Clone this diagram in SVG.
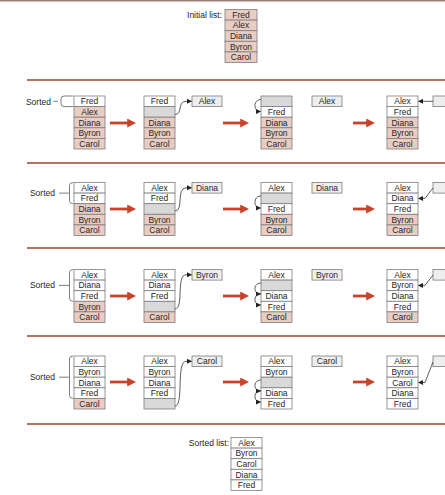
<svg xmlns="http://www.w3.org/2000/svg" width="445" height="495" viewBox="0 0 445 495">
<style>
rect.w{fill:#ffffff;stroke:#7d7d7d;stroke-width:0.8}
rect.p{fill:#e9cdc3;stroke:#7d7d7d;stroke-width:0.8}
rect.g{fill:#d9d9d9;stroke:#7d7d7d;stroke-width:0.8}
rect.l{fill:#eeeeee;stroke:#7d7d7d;stroke-width:0.8}
text{font-family:"Liberation Sans",Arial,sans-serif;font-size:8.5px;fill:#262626}
text.c{text-anchor:middle}
text.lab{text-anchor:end;font-size:8.5px}
.sep{stroke:#b57463;stroke-width:2.2}
.br{fill:none;stroke:#707070;stroke-width:0.9}
.con{fill:none;stroke:#333;stroke-width:0.8;marker-end:url(#bh)}
.red{stroke:#c8432b;stroke-width:2.8;marker-end:url(#rh)}
</style>
<defs>
<marker id="bh" viewBox="0 0 10 10" refX="9" refY="5" markerWidth="5" markerHeight="5" markerUnits="userSpaceOnUse" orient="auto"><path d="M0,0 L10,5 L0,10 z" fill="#222"/></marker>
<marker id="rh" viewBox="0 0 10 10" refX="2" refY="5" markerWidth="9" markerHeight="9" markerUnits="userSpaceOnUse" orient="auto"><path d="M0,0 L10,5 L0,10 z" fill="#c8432b"/></marker>
</defs>
<rect x="0" y="0" width="445" height="1.5" fill="#9c8276"/>
<g id="separators">
<line class="sep" x1="27" y1="80" x2="445" y2="80"/>
<line class="sep" x1="27" y1="163" x2="445" y2="163"/>
<line class="sep" x1="27" y1="248" x2="445" y2="248"/>
<line class="sep" x1="27" y1="336" x2="445" y2="336"/>
<line class="sep" x1="27" y1="424" x2="445" y2="424"/>
</g>

<g id="initial">
<text class="lab" x="222" y="18">Initial list:</text>
<rect class="p" x="225" y="9.5" width="32" height="10.6"/><text class="c" x="241" y="17.8">Fred</text>
<rect class="p" x="225" y="20.1" width="32" height="10.6"/><text class="c" x="241" y="28.4">Alex</text>
<rect class="p" x="225" y="30.7" width="32" height="10.6"/><text class="c" x="241" y="39">Diana</text>
<rect class="p" x="225" y="41.3" width="32" height="10.6"/><text class="c" x="241" y="49.6">Byron</text>
<rect class="p" x="225" y="51.9" width="32" height="10.6"/><text class="c" x="241" y="60.2">Carol</text>
</g>

<!-- Row 1 -->
<g id="r1-label">
<text class="lab" x="51" y="104.5">Sorted</text>
<path class="br" d="M53.5,101.3 L58,101.3 M73,96 L64,96 Q61,96 61,99 L61,103.6 Q61,106.6 64,106.6 L73,106.6"/>
</g>
<g id="r1-a">
<rect class="w" x="74" y="96" width="31" height="10.6"/><text class="c" x="89.5" y="104.3">Fred</text>
<rect class="p" x="74" y="106.6" width="31" height="10.6"/><text class="c" x="89.5" y="114.9">Alex</text>
<rect class="p" x="74" y="117.2" width="31" height="10.6"/><text class="c" x="89.5" y="125.5">Diana</text>
<rect class="p" x="74" y="127.8" width="31" height="10.6"/><text class="c" x="89.5" y="136.1">Byron</text>
<rect class="p" x="74" y="138.4" width="31" height="10.6"/><text class="c" x="89.5" y="146.7">Carol</text>
</g>
<g id="r1-b">
<rect class="w" x="144" y="96" width="31" height="10.6"/><text class="c" x="159.5" y="104.3">Fred</text>
<rect class="g" x="144" y="106.6" width="31" height="10.6"/>
<rect class="p" x="144" y="117.2" width="31" height="10.6"/><text class="c" x="159.5" y="125.5">Diana</text>
<rect class="p" x="144" y="127.8" width="31" height="10.6"/><text class="c" x="159.5" y="136.1">Byron</text>
<rect class="p" x="144" y="138.4" width="31" height="10.6"/><text class="c" x="159.5" y="146.7">Carol</text>
</g>
<g id="r1-x1"><rect class="l" x="192" y="96" width="30" height="10.6"/><text class="c" x="207" y="104.3">Alex</text></g>
<g id="r1-c">
<rect class="g" x="261" y="96" width="31" height="10.6"/>
<rect class="w" x="261" y="106.6" width="31" height="10.6"/><text class="c" x="276.5" y="114.9">Fred</text>
<rect class="p" x="261" y="117.2" width="31" height="10.6"/><text class="c" x="276.5" y="125.5">Diana</text>
<rect class="p" x="261" y="127.8" width="31" height="10.6"/><text class="c" x="276.5" y="136.1">Byron</text>
<rect class="p" x="261" y="138.4" width="31" height="10.6"/><text class="c" x="276.5" y="146.7">Carol</text>
</g>
<g id="r1-x2"><rect class="l" x="312" y="96" width="30" height="10.6"/><text class="c" x="327" y="104.3">Alex</text></g>
<g id="r1-d">
<rect class="w" x="387" y="96" width="31" height="10.6"/><text class="c" x="402.5" y="104.3">Alex</text>
<rect class="w" x="387" y="106.6" width="31" height="10.6"/><text class="c" x="402.5" y="114.9">Fred</text>
<rect class="p" x="387" y="117.2" width="31" height="10.6"/><text class="c" x="402.5" y="125.5">Diana</text>
<rect class="p" x="387" y="127.8" width="31" height="10.6"/><text class="c" x="402.5" y="136.1">Byron</text>
<rect class="p" x="387" y="138.4" width="31" height="10.6"/><text class="c" x="402.5" y="146.7">Carol</text>
</g>
<g id="r1-e"><rect class="l" x="433" y="96" width="20" height="10.6"/></g>

<!-- Row 2 -->
<g id="r2-label">
<text class="lab" x="55" y="196">Sorted</text>
<path class="br" d="M59,193.1 L69,193.1 M73,182.5 Q69.5,182.5 69.5,185.5 L69.5,200.7 Q69.5,203.7 73,203.7"/>
</g>
<g id="r2-a">
<rect class="w" x="74" y="182.5" width="31" height="10.6"/><text class="c" x="89.5" y="190.8">Alex</text>
<rect class="w" x="74" y="193.1" width="31" height="10.6"/><text class="c" x="89.5" y="201.4">Fred</text>
<rect class="p" x="74" y="203.7" width="31" height="10.6"/><text class="c" x="89.5" y="212">Diana</text>
<rect class="p" x="74" y="214.3" width="31" height="10.6"/><text class="c" x="89.5" y="222.6">Byron</text>
<rect class="p" x="74" y="224.9" width="31" height="10.6"/><text class="c" x="89.5" y="233.2">Carol</text>
</g>
<g id="r2-b">
<rect class="w" x="144" y="182.5" width="31" height="10.6"/><text class="c" x="159.5" y="190.8">Alex</text>
<rect class="w" x="144" y="193.1" width="31" height="10.6"/><text class="c" x="159.5" y="201.4">Fred</text>
<rect class="g" x="144" y="203.7" width="31" height="10.6"/>
<rect class="p" x="144" y="214.3" width="31" height="10.6"/><text class="c" x="159.5" y="222.6">Byron</text>
<rect class="p" x="144" y="224.9" width="31" height="10.6"/><text class="c" x="159.5" y="233.2">Carol</text>
</g>
<g id="r2-x1"><rect class="l" x="192" y="182.5" width="30" height="10.6"/><text class="c" x="207" y="190.8">Diana</text></g>
<g id="r2-c">
<rect class="w" x="261" y="182.5" width="31" height="10.6"/><text class="c" x="276.5" y="190.8">Alex</text>
<rect class="g" x="261" y="193.1" width="31" height="10.6"/>
<rect class="w" x="261" y="203.7" width="31" height="10.6"/><text class="c" x="276.5" y="212">Fred</text>
<rect class="p" x="261" y="214.3" width="31" height="10.6"/><text class="c" x="276.5" y="222.6">Byron</text>
<rect class="p" x="261" y="224.9" width="31" height="10.6"/><text class="c" x="276.5" y="233.2">Carol</text>
</g>
<g id="r2-x2"><rect class="l" x="312" y="182.5" width="30" height="10.6"/><text class="c" x="327" y="190.8">Diana</text></g>
<g id="r2-d">
<rect class="w" x="387" y="182.5" width="31" height="10.6"/><text class="c" x="402.5" y="190.8">Alex</text>
<rect class="w" x="387" y="193.1" width="31" height="10.6"/><text class="c" x="402.5" y="201.4">Diana</text>
<rect class="w" x="387" y="203.7" width="31" height="10.6"/><text class="c" x="402.5" y="212">Fred</text>
<rect class="p" x="387" y="214.3" width="31" height="10.6"/><text class="c" x="402.5" y="222.6">Byron</text>
<rect class="p" x="387" y="224.9" width="31" height="10.6"/><text class="c" x="402.5" y="233.2">Carol</text>
</g>
<g id="r2-e"><rect class="l" x="433" y="182.5" width="20" height="10.6"/></g>

<!-- Row 3 -->
<g id="r3-label">
<text class="lab" x="55" y="288.4">Sorted</text>
<path class="br" d="M59,285.4 L69,285.4 M73,269.5 Q69.5,269.5 69.5,272.5 L69.5,298.3 Q69.5,301.3 73,301.3"/>
</g>
<g id="r3-a">
<rect class="w" x="74" y="269.5" width="31" height="10.6"/><text class="c" x="89.5" y="277.8">Alex</text>
<rect class="w" x="74" y="280.1" width="31" height="10.6"/><text class="c" x="89.5" y="288.4">Diana</text>
<rect class="w" x="74" y="290.7" width="31" height="10.6"/><text class="c" x="89.5" y="299">Fred</text>
<rect class="p" x="74" y="301.3" width="31" height="10.6"/><text class="c" x="89.5" y="309.6">Byron</text>
<rect class="p" x="74" y="311.9" width="31" height="10.6"/><text class="c" x="89.5" y="320.2">Carol</text>
</g>
<g id="r3-b">
<rect class="w" x="144" y="269.5" width="31" height="10.6"/><text class="c" x="159.5" y="277.8">Alex</text>
<rect class="w" x="144" y="280.1" width="31" height="10.6"/><text class="c" x="159.5" y="288.4">Diana</text>
<rect class="w" x="144" y="290.7" width="31" height="10.6"/><text class="c" x="159.5" y="299">Fred</text>
<rect class="g" x="144" y="301.3" width="31" height="10.6"/>
<rect class="p" x="144" y="311.9" width="31" height="10.6"/><text class="c" x="159.5" y="320.2">Carol</text>
</g>
<g id="r3-x1"><rect class="l" x="192" y="269.5" width="30" height="10.6"/><text class="c" x="207" y="277.8">Byron</text></g>
<g id="r3-c">
<rect class="w" x="261" y="269.5" width="31" height="10.6"/><text class="c" x="276.5" y="277.8">Alex</text>
<rect class="g" x="261" y="280.1" width="31" height="10.6"/>
<rect class="w" x="261" y="290.7" width="31" height="10.6"/><text class="c" x="276.5" y="299">Diana</text>
<rect class="w" x="261" y="301.3" width="31" height="10.6"/><text class="c" x="276.5" y="309.6">Fred</text>
<rect class="p" x="261" y="311.9" width="31" height="10.6"/><text class="c" x="276.5" y="320.2">Carol</text>
</g>
<g id="r3-x2"><rect class="l" x="312" y="269.5" width="30" height="10.6"/><text class="c" x="327" y="277.8">Byron</text></g>
<g id="r3-d">
<rect class="w" x="387" y="269.5" width="31" height="10.6"/><text class="c" x="402.5" y="277.8">Alex</text>
<rect class="w" x="387" y="280.1" width="31" height="10.6"/><text class="c" x="402.5" y="288.4">Byron</text>
<rect class="w" x="387" y="290.7" width="31" height="10.6"/><text class="c" x="402.5" y="299">Diana</text>
<rect class="w" x="387" y="301.3" width="31" height="10.6"/><text class="c" x="402.5" y="309.6">Fred</text>
<rect class="p" x="387" y="311.9" width="31" height="10.6"/><text class="c" x="402.5" y="320.2">Carol</text>
</g>
<g id="r3-e"><rect class="l" x="433" y="269.5" width="20" height="10.6"/></g>

<!-- Row 4 -->
<g id="r4-label">
<text class="lab" x="55" y="380.2">Sorted</text>
<path class="br" d="M59,377.2 L69,377.2 M73,356 Q69.5,356 69.5,359 L69.5,395.4 Q69.5,398.4 73,398.4"/>
</g>
<g id="r4-a">
<rect class="w" x="74" y="356" width="31" height="10.6"/><text class="c" x="89.5" y="364.3">Alex</text>
<rect class="w" x="74" y="366.6" width="31" height="10.6"/><text class="c" x="89.5" y="374.9">Byron</text>
<rect class="w" x="74" y="377.2" width="31" height="10.6"/><text class="c" x="89.5" y="385.5">Diana</text>
<rect class="w" x="74" y="387.8" width="31" height="10.6"/><text class="c" x="89.5" y="396.1">Fred</text>
<rect class="p" x="74" y="398.4" width="31" height="10.6"/><text class="c" x="89.5" y="406.7">Carol</text>
</g>
<g id="r4-b">
<rect class="w" x="144" y="356" width="31" height="10.6"/><text class="c" x="159.5" y="364.3">Alex</text>
<rect class="w" x="144" y="366.6" width="31" height="10.6"/><text class="c" x="159.5" y="374.9">Byron</text>
<rect class="w" x="144" y="377.2" width="31" height="10.6"/><text class="c" x="159.5" y="385.5">Diana</text>
<rect class="w" x="144" y="387.8" width="31" height="10.6"/><text class="c" x="159.5" y="396.1">Fred</text>
<rect class="g" x="144" y="398.4" width="31" height="10.6"/>
</g>
<g id="r4-x1"><rect class="l" x="192" y="356" width="30" height="10.6"/><text class="c" x="207" y="364.3">Carol</text></g>
<g id="r4-c">
<rect class="w" x="261" y="356" width="31" height="10.6"/><text class="c" x="276.5" y="364.3">Alex</text>
<rect class="w" x="261" y="366.6" width="31" height="10.6"/><text class="c" x="276.5" y="374.9">Byron</text>
<rect class="g" x="261" y="377.2" width="31" height="10.6"/>
<rect class="w" x="261" y="387.8" width="31" height="10.6"/><text class="c" x="276.5" y="396.1">Diana</text>
<rect class="w" x="261" y="398.4" width="31" height="10.6"/><text class="c" x="276.5" y="406.7">Fred</text>
</g>
<g id="r4-x2"><rect class="l" x="312" y="356" width="30" height="10.6"/><text class="c" x="327" y="364.3">Carol</text></g>
<g id="r4-d">
<rect class="w" x="387" y="356" width="31" height="10.6"/><text class="c" x="402.5" y="364.3">Alex</text>
<rect class="w" x="387" y="366.6" width="31" height="10.6"/><text class="c" x="402.5" y="374.9">Byron</text>
<rect class="w" x="387" y="377.2" width="31" height="10.6"/><text class="c" x="402.5" y="385.5">Carol</text>
<rect class="w" x="387" y="387.8" width="31" height="10.6"/><text class="c" x="402.5" y="396.1">Diana</text>
<rect class="w" x="387" y="398.4" width="31" height="10.6"/><text class="c" x="402.5" y="406.7">Fred</text>
</g>
<g id="r4-e"><rect class="l" x="433" y="356" width="20" height="10.6"/></g>

<g id="final">
<text class="lab" x="229" y="446">Sorted list:</text>
<rect class="w" x="231" y="437.5" width="31" height="10.6"/><text class="c" x="246.5" y="445.8">Alex</text>
<rect class="w" x="231" y="448.1" width="31" height="10.6"/><text class="c" x="246.5" y="456.4">Byron</text>
<rect class="w" x="231" y="458.7" width="31" height="10.6"/><text class="c" x="246.5" y="467">Carol</text>
<rect class="w" x="231" y="469.3" width="31" height="10.6"/><text class="c" x="246.5" y="477.6">Diana</text>
<rect class="w" x="231" y="479.9" width="31" height="10.6"/><text class="c" x="246.5" y="488.2">Fred</text>
</g>

<g id="connectors">
<line class="red" x1="110" y1="123" x2="129" y2="123"/>
<line class="red" x1="223" y1="123" x2="242" y2="123"/>
<line class="red" x1="353" y1="123" x2="368" y2="123"/>
<line class="red" x1="110" y1="209" x2="129" y2="209"/>
<line class="red" x1="223" y1="209" x2="242" y2="209"/>
<line class="red" x1="353" y1="209" x2="368" y2="209"/>
<line class="red" x1="110" y1="296" x2="129" y2="296"/>
<line class="red" x1="223" y1="296" x2="242" y2="296"/>
<line class="red" x1="353" y1="296" x2="368" y2="296"/>
<line class="red" x1="110" y1="382" x2="129" y2="382"/>
<line class="red" x1="223" y1="382" x2="242" y2="382"/>
<line class="red" x1="353" y1="382" x2="368" y2="382"/>
<path class="con" d="M175,114.5 C183,114.5 177,101.3 186,101.3 L191.5,101.3"/>
<path class="con" d="M175,211 C184,211 176,187.8 186,187.8 L191.5,187.8"/>
<path class="con" d="M175,309 C184,309 176,274.8 186,274.8 L191.5,274.8"/>
<path class="con" d="M175,406 C184,406 176,361.3 186,361.3 L191.5,361.3"/>
<path class="con" d="M261,99.5 C253,99.5 253,111.5 260.5,111.5"/>
<path class="con" d="M261,196 C253,196 253,208 260.5,208"/>
<path class="con" d="M261,283 C253,283 253,294 260.5,294"/>
<path class="con" d="M261,293.5 C253,293.5 253,305 260.5,305"/>
<path class="con" d="M261,380 C253,380 253,391 260.5,391"/>
<path class="con" d="M261,390.5 C253,390.5 253,402 260.5,402"/>
<path class="con" d="M433,101.3 L418.5,101.3"/>
<path class="con" d="M433,188 L425,198.4 L418.5,198.4"/>
<path class="con" d="M433,275 L425,285.4 L418.5,285.4"/>
<path class="con" d="M433,362 L425,382.5 L418.5,382.5"/>
</g>
</svg>
